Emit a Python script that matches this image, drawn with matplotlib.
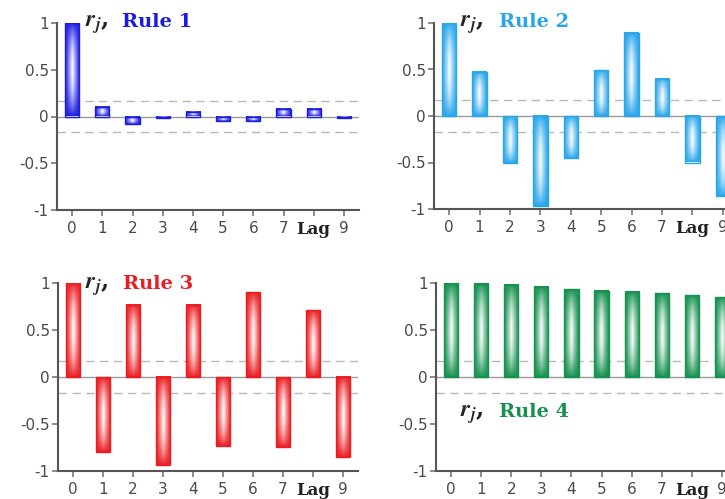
import numpy as np
import matplotlib
matplotlib.use("Agg")
import matplotlib.pyplot as plt
from matplotlib.patches import Rectangle
from matplotlib.colors import to_rgb

lags = list(range(10))
tick_labels = ["0", "1", "2", "3", "4", "5", "6", "7", "Lag", "9"]
y_ticks = [-1, -0.5, 0, 0.5, 1]
y_tick_labels = ["-1", "-0.5", "0", "0.5", "1"]

rule1 = [1.0, 0.10, -0.08, -0.01, 0.05, -0.05, -0.05, 0.075, 0.075, -0.02]
rule2 = [1.0, 0.475, -0.505, -0.97, -0.45, 0.49, 0.895, 0.40, -0.50, -0.86]
rule3 = [1.0, -0.795, 0.77, -0.94, 0.77, -0.73, 0.90, -0.74, 0.71, -0.855]
rule4 = [1.0, 0.99, 0.98, 0.958, 0.933, 0.92, 0.908, 0.89, 0.87, 0.85]

titles = ["Rule 1", "Rule 2", "Rule 3", "Rule 4"]
colors = ["#1c1ce0", "#29a6ea", "#ea1e22", "#169150"]
band = 0.17

W, H = 725, 499
fig = plt.figure(figsize=(W / 100, H / 100), dpi=100)

# axes boxes in pixels: (left, right, top(y=1), bottom(y=-1))
boxes = [(57, 359, 23, 210), (434, 738, 23, 209),
         (58, 358, 283, 471), (436, 737, 283, 471)]
title_pos = [(0.093, 0.215, 0.979), (0.086, 0.214, 0.979),
             (0.090, 0.217, 0.968), (0.080, 0.209, 0.287)]

data = [rule1, rule2, rule3, rule4]


def grad_image(base, n=60):
    u = np.linspace(-1, 1, n)
    v = np.linspace(-1, 1, n * 3)
    U, V = np.meshgrid(u, v)
    w = np.clip(1 - np.abs(U), 0, 1) ** 1.1 * np.clip(1 - V ** 2, 0, 1) ** 0.9
    c = np.array(to_rgb(base))
    img = c[None, None, :] * (1 - w[..., None]) + np.ones(3)[None, None, :] * w[..., None]
    return img


for i, (vals, col, box) in enumerate(zip(data, colors, boxes)):
    l, r, t, b = box
    ax = fig.add_axes([l / W, 1 - b / H, (r - l) / W, (b - t) / H])
    ax.set_xlim(-0.5, 9.5)
    ax.set_ylim(-1, 1)
    ax.axhline(0, color="#9a9a9a", lw=1.0, zorder=1)
    ax.axhline(band, color="#b8b8b8", lw=1.0, ls=(0, (6, 4)), zorder=1)
    ax.axhline(-band, color="#b8b8b8", lw=1.0, ls=(0, (6, 4)), zorder=1)
    img = grad_image(col)
    bw = 0.47
    for x, v in zip(lags, vals):
        y0, y1 = (0, v) if v >= 0 else (v, 0)
        if abs(v) < 0.02:
            y0, y1 = (y0 - 0.01, y1) if v < 0 else (y0, y1 + 0.01)
        ax.imshow(img, extent=(x - bw / 2, x + bw / 2, y0, y1), aspect="auto",
                  interpolation="bilinear", zorder=2, origin="lower")
        ax.add_patch(Rectangle((x - bw / 2, y0), bw, y1 - y0, fill=False,
                               edgecolor=col, lw=1.0, zorder=3))
    ax.set_xlim(-0.5, 9.5)
    ax.set_ylim(-1, 1)
    for s in ["top", "right"]:
        ax.spines[s].set_visible(False)
    for s in ["left", "bottom"]:
        ax.spines[s].set_color("#555555")
        ax.spines[s].set_linewidth(1.5)
    ax.set_xticks(lags)
    ax.set_xticklabels(tick_labels)
    ax.set_yticks(y_ticks)
    ax.set_yticklabels(y_tick_labels)
    ax.tick_params(axis="both", colors="#777777", labelcolor="#4a4a4a",
                   labelsize=11, length=4, width=1.2)
    ax.tick_params(axis="x", pad=4)
    ax.tick_params(axis="y", pad=2)
    lab = ax.get_xticklabels()[8]
    lab.set_fontfamily("DejaVu Serif")
    lab.set_fontweight("bold")
    lab.set_fontsize(12)
    lab.set_color("#222222")
    rx, tx, ty = title_pos[i]
    ax.text(rx, ty, r"$\mathbfit{r_j}$,", transform=ax.transAxes, fontsize=17,
            color="#222222", ha="left", va="baseline", math_fontfamily="stix",
            family="DejaVu Serif", fontweight="bold")
    ax.text(tx, ty, titles[i], transform=ax.transAxes, fontsize=14,
            color=col, fontweight="bold", family="DejaVu Serif",
            ha="left", va="baseline")

fig.savefig("out.png", dpi=100)
